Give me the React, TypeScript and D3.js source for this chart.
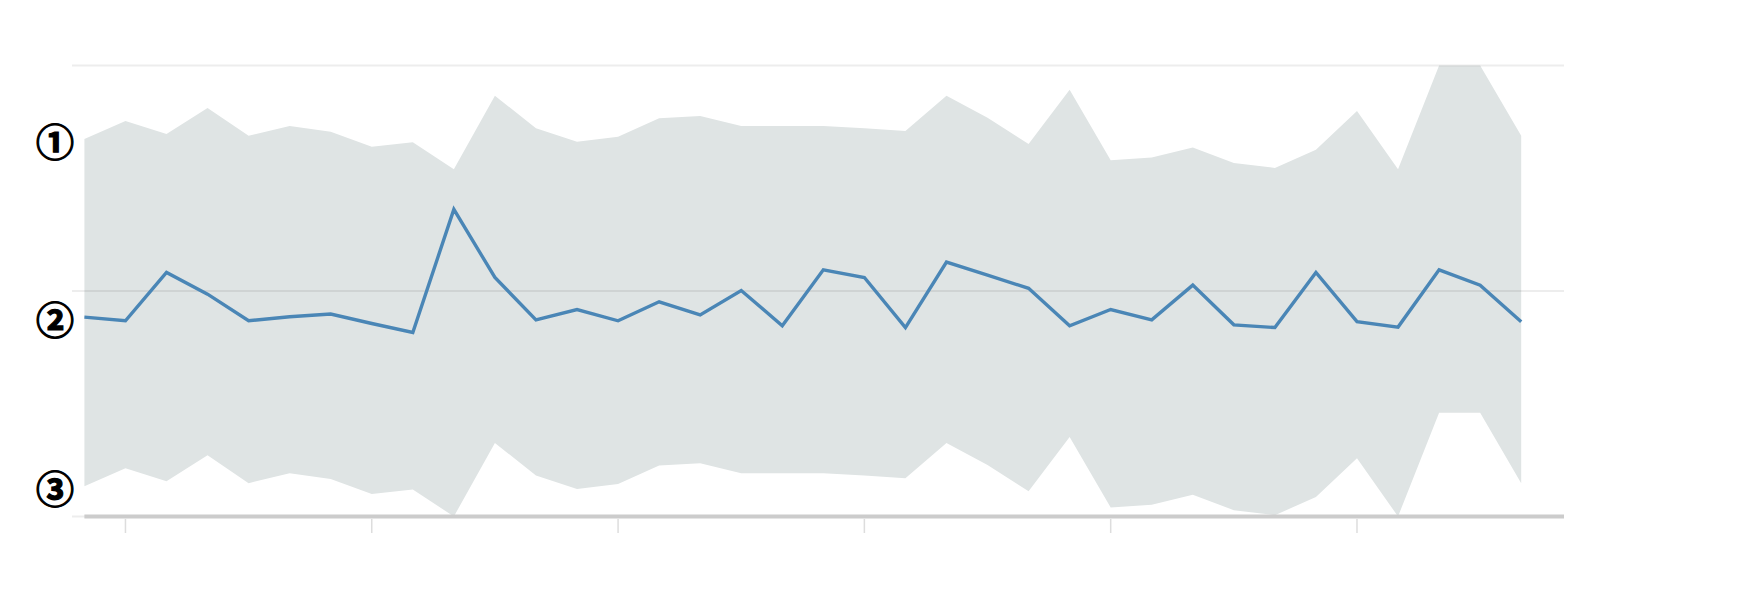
import React from "react";
import * as d3 from "d3";

// Series values (y units: 0 = axis, 100 = top gridline)
const meanValues = [
  44.2, 43.4, 54.1, 49.3, 43.4, 44.3, 44.9, 42.8, 40.8, 68.1,
  53.0, 43.6, 45.9, 43.4, 47.6, 44.7, 50.1, 42.3, 54.7, 53.0,
  41.9, 56.4, 53.5, 50.6, 42.3, 45.9, 43.6, 51.3, 42.5, 41.9,
  54.1, 43.2, 42.0, 54.7, 51.3, 43.2,
];
const upperValues = [
  83.7, 87.7, 84.8, 90.6, 84.4, 86.6, 85.3, 82.0, 83.0, 77.0,
  93.3, 86.1, 83.1, 84.2, 88.3, 88.8, 86.6, 86.6, 86.6, 86.1,
  85.5, 93.3, 88.4, 82.6, 94.6, 79.0, 79.6, 81.8, 78.4, 77.3,
  81.3, 89.9, 77.0, 100.0, 100.0, 84.4,
];
const lowerValues = [
  6.7, 10.7, 7.8, 13.6, 7.4, 9.6, 8.3, 5.0, 6.0, 0.0,
  16.3, 9.1, 6.1, 7.2, 11.3, 11.8, 9.6, 9.6, 9.6, 9.1,
  8.5, 16.3, 11.4, 5.6, 17.6, 2.0, 2.6, 4.8, 1.4, 0.3,
  4.3, 12.9, 0.0, 23.0, 23.0, 7.4,
];
const xTickIndices = [1, 7, 13, 19, 25, 31];
const yTickValues = [0, 50, 100];
const seriesLabels = ["①", "②", "③"];

const W = 1764;
const H = 602;

export default function App() {
  const n = meanValues.length;
  const x = d3.scaleLinear().domain([0, n - 1]).range([84.4, 1521.2]);
  const y = d3.scaleLinear().domain([0, 100]).range([516.5, 65.5]);

  const idx = d3.range(n);
  const area = d3
    .area<number>()
    .x((i) => x(i))
    .y0((i) => y(lowerValues[i]))
    .y1((i) => y(upperValues[i]));
  const line = d3
    .line<number>()
    .x((i) => x(i))
    .y((i) => y(meanValues[i]));

  const gridX0 = 72;
  const gridX1 = 1564;
  const labelYs = [upperValues[0], meanValues[0], lowerValues[0]];

  return (
    <svg
      width={W}
      height={H}
      style={{ position: "absolute", left: 0, top: 0, background: "#fff" }}
    >
      <path d={area(idx) || ""} fill="#dfe4e4" />
      {yTickValues.map((v) => (
        <line
          key={v}
          x1={gridX0}
          x2={gridX1}
          y1={y(v)}
          y2={y(v)}
          stroke="#000"
          strokeOpacity={0.07}
          strokeWidth={2}
        />
      ))}
      <path
        d={line(idx) || ""}
        fill="none"
        stroke="#4a86b6"
        strokeWidth={3.4}
      />
      <line
        x1={x(0)}
        x2={gridX1}
        y1={y(0)}
        y2={y(0)}
        stroke="#cccccc"
        strokeWidth={4}
      />
      {xTickIndices.map((i) => (
        <line
          key={i}
          x1={x(i)}
          x2={x(i)}
          y1={519}
          y2={533}
          stroke="#dddddd"
          strokeWidth={1.5}
        />
      ))}
      {seriesLabels.map((s, k) => (
        <text
          key={s}
          x={74}
          y={y(labelYs[k])}
          textAnchor="end"
          dominantBaseline="central"
          fontFamily="'Noto Sans CJK JP', 'DejaVu Sans', sans-serif"
          fontWeight="bold"
          fontSize={38}
          fill="#000"
          stroke="#000"
          strokeWidth={1.2}
        >
          {s}
        </text>
      ))}
    </svg>
  );
}
